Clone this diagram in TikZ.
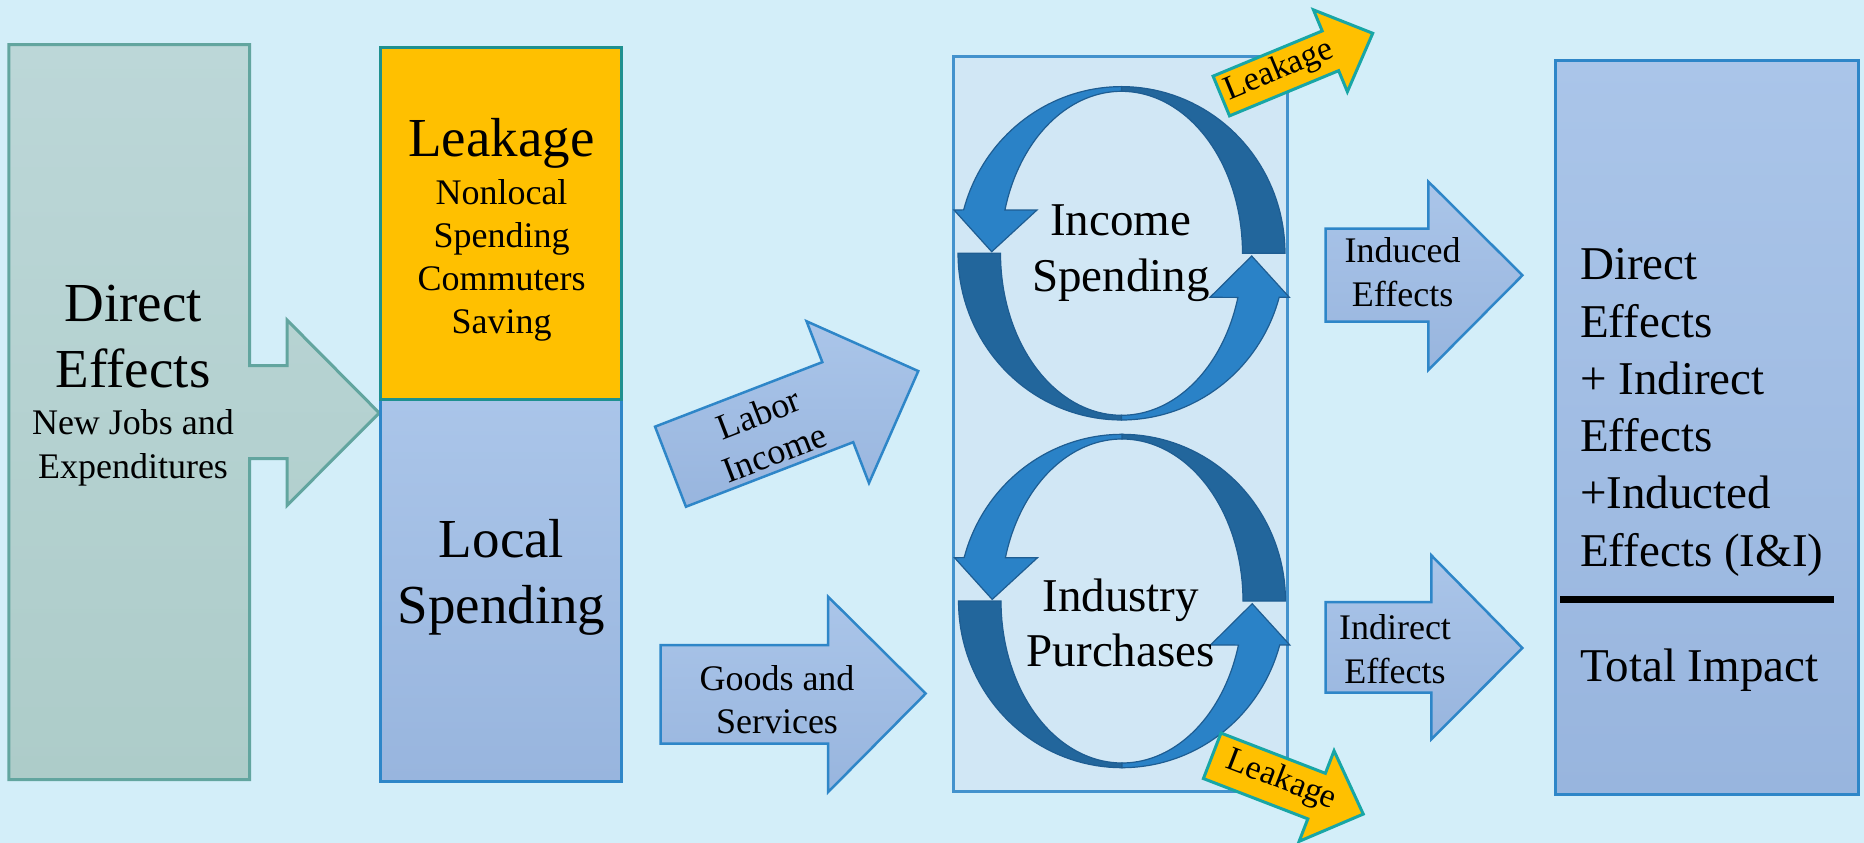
\documentclass[tikz,border=0pt]{standalone}
\usepackage{fontspec}
\setmainfont{Liberation Serif}
\definecolor{bg}{HTML}{D3EEF9}
\definecolor{dirtop}{HTML}{BCD7D8}
\definecolor{dirbot}{HTML}{ADCCC9}
\definecolor{dirline}{HTML}{62A59F}
\definecolor{orangefill}{HTML}{FFC000}
\definecolor{tealline}{HTML}{1E9090}
\definecolor{bluetop}{HTML}{AAC5E9}
\definecolor{bluebot}{HTML}{98B5DE}
\definecolor{blueline}{HTML}{2E86C8}
\definecolor{midfill}{HTML}{D1E7F5}
\definecolor{ringlight}{HTML}{2A82C7}
\definecolor{ringdark}{HTML}{22669C}
\definecolor{ringline}{HTML}{1E5D92}
\tikzset{
  bigtxt/.style={font=\fontsize{55}{60}\selectfont, anchor=base, inner sep=0pt},
  midtxt/.style={font=\fontsize{47}{52}\selectfont, anchor=base, inner sep=0pt},
  smalltxt/.style={font=\fontsize{36}{40}\selectfont, anchor=base, inner sep=0pt},
  tinytxt/.style={font=\fontsize{34}{38}\selectfont, anchor=base, inner sep=0pt},
  rtxt/.style={font=\fontsize{47}{52}\selectfont, anchor=base west, inner sep=0pt},
  bluebox/.style={draw=blueline, line width=3pt, top color=bluetop, bottom color=bluebot},
  bluearrow/.style={draw=blueline, line width=2.5pt, top color=bluetop, bottom color=bluebot, line join=miter},
  yellowarrow/.style={draw=tealline!80!cyan, line width=3pt, fill=orangefill, line join=miter},
  ringdk/.style={fill=ringdark, draw=ringline, line width=1.2pt},
  ringlt/.style={fill=ringlight, draw=ringline, line width=1.2pt},
}
\newcommand{\ringpair}[2]{%
\begin{scope}[shift={(#1,#2)}]
  \path[ringdk] plot[domain=0:90, samples=40] ({163.5*cos(\x)}, {-166.7*sin(\x)})
     -- plot[domain=90:0, samples=40] ({121*cos(\x)}, {-162*sin(\x)}) -- cycle;
  \path[ringdk] plot[domain=180:270, samples=40] ({163.5*cos(\x)}, {-166.7*sin(\x)})
     -- plot[domain=270:180, samples=40] ({121*cos(\x)}, {-162*sin(\x)}) -- cycle;
  \path[ringlt] plot[domain=90:164.9, samples=40] ({163.5*cos(\x)}, {-166.7*sin(\x)})
     -- (-167.5,-43.3) -- (-129.8,-1.6) -- (-84.5,-43.3)
     -- plot[domain=164.5:90, samples=40] ({121*cos(\x)}, {-162*sin(\x)}) -- cycle;
  \path[ringlt] plot[domain=270:344.7, samples=40] ({163.5*cos(\x)}, {-166.7*sin(\x)})
     -- (167.8,44) -- (130.2,2.7) -- (88.5,44)
     -- plot[domain=344.2:270, samples=40] ({121*cos(\x)}, {-162*sin(\x)}) -- cycle;
\end{scope}}
\begin{document}
\begin{tikzpicture}[x=1pt, y=-1pt]
\useasboundingbox (0,0) rectangle (1864,843);
\fill[bg] (0,0) rectangle (1864,843);

% Direct effects block arrow
\path[draw=dirline, line width=3pt, top color=dirtop, bottom color=dirbot, line join=miter]
  (8.9,44.6) -- (249.7,44.6) -- (249.7,365.6) -- (287,365.6) -- (287,320) -- (379.3,413)
  -- (287,505.4) -- (287,458.6) -- (249.7,458.6) -- (249.7,779.6) -- (8.9,779.6) -- cycle;
\node[bigtxt] (d1) at (133,321) {Direct};
\node[bigtxt] (d2) at (133,387) {Effects};
\node[smalltxt] (d3) at (133,434.4) {New Jobs and};
\node[smalltxt] (d4) at (133,478.5) {Expenditures};

% Leakage / Local spending
\path[bluebox] (380.5,399) rectangle (621.9,781);
\path[draw=tealline, line width=3pt, fill=orangefill] (380.5,47.3) rectangle (621.9,399);
\node[bigtxt] (l1) at (501.5,156) {Leakage};
\node[smalltxt] (l2) at (501.5,204.3) {Nonlocal};
\node[smalltxt] (l3) at (501.5,247.3) {Spending};
\node[smalltxt] (l4) at (501.5,290.3) {Commuters};
\node[smalltxt] (l5) at (501.5,333.3) {Saving};
\node[bigtxt] (s1) at (501.5,557.5) {Local};
\node[bigtxt] (s2) at (501.5,623.7) {Spending};

% Labor income arrow
\begin{scope}[shift={(670.5,466.7)}, rotate=21.1]
  \path[bluearrow] (0,-42.9) -- (179.3,-42.9) -- (179.3,-86.7) -- (265.6,0) -- (179.3,86.7)
    -- (179.3,42.9) -- (0,42.9) -- cycle;
\end{scope}
\node[smalltxt, rotate=21.1] (li1) at (763,425) {Labor};
\node[smalltxt, rotate=21.1] (li2) at (779,464) {Income};

% Goods and services arrow
\path[bluearrow] (660.5,645) -- (828.2,645) -- (828.2,596.8) -- (925.7,693.5) -- (828.2,792)
  -- (828.2,743.5) -- (660.5,743.5) -- cycle;
\node[smalltxt] (g1) at (777,690) {Goods and};
\node[smalltxt] (g2) at (777,733) {Services};

% Middle box with rings
\path[draw=blueline!90!white, line width=2.5pt, fill=midfill] (953.4,56.5) rectangle (1287.5,791.4);
\ringpair{1121.5}{253.3}
\ringpair{1122}{601}
\node[midtxt] (r1) at (1120.8,235) {Income};
\node[midtxt] (r2) at (1120.8,291.7) {Spending};
\node[midtxt] (r3) at (1120.8,611.3) {Industry};
\node[midtxt] (r4) at (1120.8,666.7) {Purchases};

% Leakage arrows
\begin{scope}[shift={(1221.3,96)}, rotate=22.5]
  \path[yellowarrow] (0,-21.5) -- (118.1,-21.5) -- (118.1,-44.3) -- (163.9,0) -- (118.1,44.3)
    -- (118.1,21.5) -- (0,21.5) -- cycle;
\end{scope}
\node[tinytxt, rotate=22.5] (k1) at (1282.3,78.3) {Leakage};
\begin{scope}[shift={(1212.2,755.8)}, rotate=-21.1]
  \path[yellowarrow] (0,-24.4) -- (111.9,-24.4) -- (111.9,-48.5) -- (161.9,0) -- (111.9,48.5)
    -- (111.9,24.4) -- (0,24.4) -- cycle;
\end{scope}
\node[tinytxt, rotate=-21.1] (k2) at (1278.3,788.3) {Leakage};

% Induced / Indirect arrows
\path[bluearrow] (1325.6,228.5) -- (1428.4,228.5) -- (1428.4,181.7) -- (1522.4,275.3)
  -- (1428.4,370) -- (1428.4,321.5) -- (1325.6,321.5) -- cycle;
\node[smalltxt] (i1) at (1402.6,262) {Induced};
\node[smalltxt] (i2) at (1402.6,306.5) {Effects};
\path[bluearrow] (1325.6,602) -- (1431.4,602) -- (1431.4,555.4) -- (1522.4,648)
  -- (1431.4,739.2) -- (1431.4,692.5) -- (1325.6,692.5) -- cycle;
\node[smalltxt] (j1) at (1395,639) {Indirect};
\node[smalltxt] (j2) at (1395,683) {Effects};

% Right box
\path[bluebox] (1555,60.2) rectangle (1858.3,794.6);
\node[rtxt] (t1) at (1580,279.6) {Direct};
\node[rtxt] (t2) at (1580,337.1) {Effects};
\node[rtxt] (t3) at (1580,394.1) {+ Indirect};
\node[rtxt] (t4) at (1580,451.6) {Effects};
\node[rtxt] (t5) at (1580,508.1) {+Inducted};
\node[rtxt] (t6) at (1580,566.1) {Effects (I\&I)};
\coordinate (bl) at (1560.4,599.5);
\coordinate (br) at (1833.9,599.5);
\draw[line width=6.5pt, black] (bl) -- (br);
\node[rtxt] (t7) at (1580,681.7) {Total Impact};
\end{tikzpicture}
\end{document}
